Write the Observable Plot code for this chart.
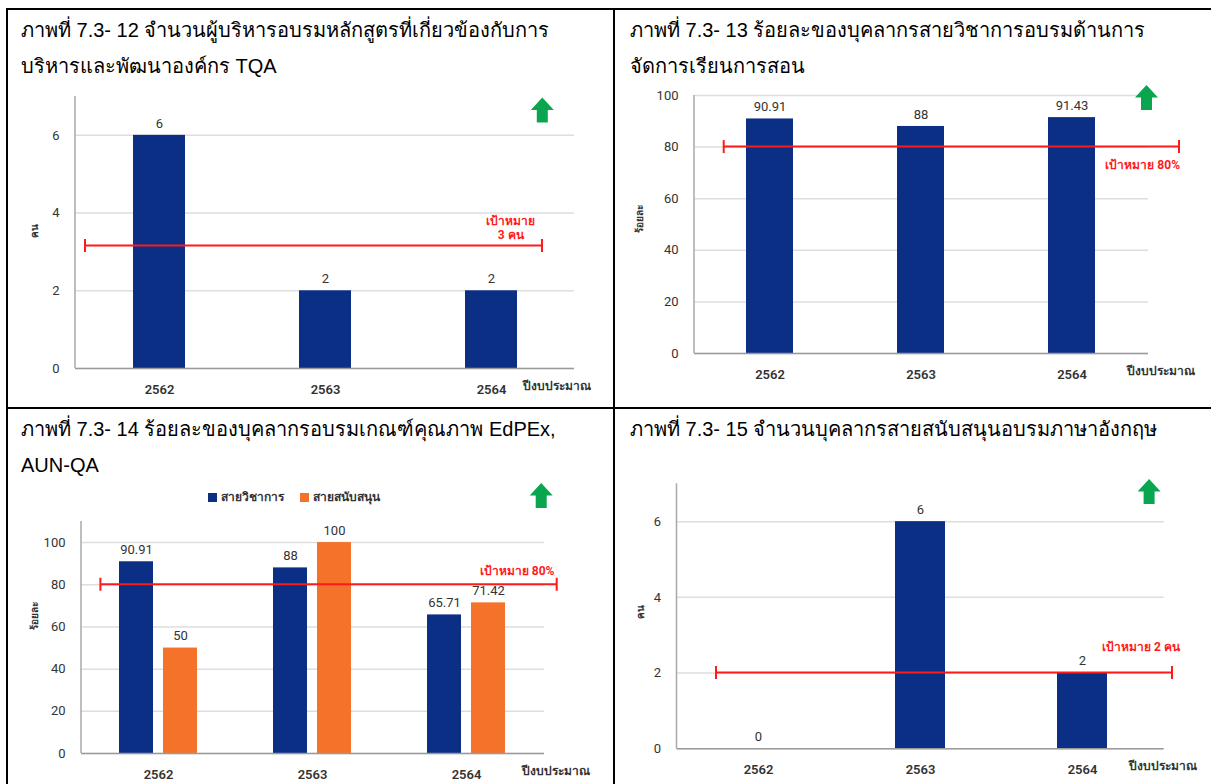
<!DOCTYPE html>
<html>
<head>
<meta charset="utf-8">
<script src="https://cdn.jsdelivr.net/npm/d3@7"></script>
<script src="https://cdn.jsdelivr.net/npm/@observablehq/plot@0.6"></script>
<style>
html, body { margin: 0; padding: 0; background: #fff; }
body { width: 1211px; height: 784px; overflow: hidden; position: relative; font-family: "Liberation Sans", Arial, sans-serif; }
.b { position: absolute; background: #000; }
.t { position: absolute; font-size: 20px; line-height: 20px; white-space: nowrap; color: #000; }
.chart { position: absolute; }
.chart svg { overflow: visible; }
.chart svg [aria-label^="x-axis"] text { font-weight: 600; fill: #333; }
.legend { position: absolute; display: flex; align-items: center; gap: 16px; font-family: Roboto, "Noto Sans", sans-serif; font-size: 12px; font-weight: 600; color: #333; white-space: nowrap; }
.legend span.sw { display: inline-block; width: 9px; height: 9px; margin-right: 4px; vertical-align: middle; }
</style>
</head>
<body>
<script>
// ---------------- data ----------------
const years = ["2562", "2563", "2564"];
const mgmtTQA = [6, 2, 2];                       // ภาพที่ 7.3-12 (คน)
const academicTeaching = [90.91, 88, 91.43];     // ภาพที่ 7.3-13 (ร้อยละ)
const qaAcademic = [90.91, 88, 65.71];           // ภาพที่ 7.3-14 สายวิชาการ
const qaSupport = [50, 100, 71.42];              // ภาพที่ 7.3-14 สายสนับสนุน
const englishSupport = [0, 6, 2];                // ภาพที่ 7.3-15 (คน)
const seriesNames = ["สายวิชาการ", "สายสนับสนุน"];
const titleLines = [
  ["ภาพที่ 7.3- 12 จำนวนผู้บริหารอบรมหลักสูตรที่เกี่ยวข้องกับการ", "บริหารและพัฒนาองค์กร TQA"],
  ["ภาพที่ 7.3- 13 ร้อยละของบุคลากรสายวิชาการอบรมด้านการ", "จัดการเรียนการสอน"],
  ["ภาพที่ 7.3- 14 ร้อยละของบุคลากรอบรมเกณฑ์คุณภาพ EdPEx,", "AUN-QA"],
  ["ภาพที่ 7.3- 15 จำนวนบุคลากรสายสนับสนุนอบรมภาษาอังกฤษ"]
];
const targetLevels = [3.15, 80, 80, 2];
const targetLabels = [["เป้าหมาย", "3 คน"], ["เป้าหมาย 80%"], ["เป้าหมาย 80%"], ["เป้าหมาย 2 คน"]];
const yLabels = ["คน", "ร้อยละ", "ร้อยละ", "คน"];
const xLabel = "ปีงบประมาณ";
const countTicks = [0, 2, 4, 6];
const pctTicks = [0, 20, 40, 60, 80, 100];

// ---------------- style ----------------
const NAVY = "#0b2f85";
const ORANGE = "#f4722a";
const RED = "#ff1a1a";
const GREEN = "#0aa64f";
const FONT = "Roboto, 'Noto Sans', 'DejaVu Sans', sans-serif";

// table borders
function box(l, t, w, h) {
  const d = document.createElement("div");
  d.className = "b";
  Object.assign(d.style, {left: l + "px", top: t + "px", width: w + "px", height: h + "px"});
  document.body.appendChild(d);
}
box(6, 8, 1300, 2);
box(6, 8, 2, 900);
box(613, 8, 2, 900);
box(6, 407, 1300, 2);

// titles
const titlePos = [[21, 19.5], [630, 19.5], [21, 418.5], [630, 418.5]];
titleLines.forEach((lines, i) => {
  lines.forEach((txt, j) => {
    const d = document.createElement("div");
    d.className = "t";
    d.textContent = txt;
    d.style.left = titlePos[i][0] + "px";
    d.style.top = (titlePos[i][1] + j * 36.6) + "px";
    document.body.appendChild(d);
  });
});

// legend for chart 3
{
  const lg = document.createElement("div");
  lg.className = "legend";
  lg.style.left = "208px";
  lg.style.top = "487px";
  [NAVY, ORANGE].forEach((c, i) => {
    const it = document.createElement("div");
    const sw = document.createElement("span");
    sw.className = "sw";
    sw.style.background = c;
    it.appendChild(sw);
    it.appendChild(document.createTextNode(seriesNames[i]));
    lg.appendChild(it);
  });
  document.body.appendChild(lg);
}

// decoration mark: target line with end caps, target label, green arrow, y axis line
function decor(c) {
  return (...args) => {
    const scales = args.find(a => a && typeof a.y === "function");
    const dims = args.find(a => a && typeof a === "object" && "marginLeft" in a && "width" in a);
    const L = dims.marginLeft, R = dims.width - dims.marginRight, T = dims.marginTop;
    const y = scales.y(c.level);
    const g = d3.create("svg:g");
    const x1 = L + c.x1, x2 = R + c.x2;
    g.append("line").attr("x1", x1).attr("x2", x2).attr("y1", y).attr("y2", y)
      .attr("stroke", RED).attr("stroke-width", 2);
    [x1, x2].forEach(x => g.append("line").attr("x1", x).attr("x2", x)
      .attr("y1", y - 6.5).attr("y2", y + 6.5).attr("stroke", RED).attr("stroke-width", 2));
    c.label.forEach((s, k) => g.append("text")
      .attr("x", R + c.lx).attr("y", y + c.ly[k]).attr("dy", "0.35em")
      .attr("text-anchor", c.anchor).attr("fill", RED)
      .attr("font-weight", "bold").attr("font-size", 12).text(s));
    const ax = R + c.ax, ay = T + c.ay;
    g.append("path")
      .attr("d", `M${ax + 11.5},${ay} L${ax + 23},${ay + 12.5} L${ax + 17},${ay + 12.5} L${ax + 17},${ay + 25} L${ax + 6},${ay + 25} L${ax + 6},${ay + 12.5} L${ax},${ay + 12.5} Z`)
      .attr("fill", GREEN);
    g.append("line").attr("x1", L).attr("x2", L).attr("y1", T).attr("y2", dims.height - dims.marginBottom)
      .attr("stroke", "#a8a8a8").attr("stroke-width", 1.5);
    return g.node();
  };
}

function makeChart(cfg) {
  const marks = [
    Plot.ruleY(cfg.grid, {stroke: "#dedede", strokeWidth: 1.5}),
    ...cfg.bars,
    Plot.ruleY([0], {stroke: "#9a9a9a", strokeWidth: 1.5}),
    ...cfg.values,
    Plot.text([cfg.yLabel], {text: d => d, frameAnchor: "left", rotate: -90, dx: cfg.ylx, dy: cfg.yly,
      textAnchor: "middle", fontWeight: "bold", fontSize: 10, fill: "#333"}),
    Plot.text([xLabel], {text: d => d, frameAnchor: "bottom-right", dx: cfg.xlx, dy: 21,
      textAnchor: "middle", fontWeight: "bold", fontSize: 12, fill: "#333"}),
    decor(cfg.decor)
  ];
  const svg = Plot.plot({
    width: cfg.w, height: cfg.h,
    marginLeft: cfg.m[0], marginRight: cfg.m[1], marginTop: cfg.m[2], marginBottom: cfg.m[3],
    style: {fontFamily: FONT, fontSize: "13px", color: "#333", background: "transparent", overflow: "visible"},
    x: {domain: years, paddingInner: cfg.pi, paddingOuter: cfg.pi / 2, align: 0.5, tickSize: 0, tickPadding: 16, label: null},
    y: {domain: cfg.yDomain, ticks: cfg.grid, tickFormat: d => String(d), tickSize: 0, tickPadding: 16, label: null},
    marks
  });
  const wrap = document.createElement("div");
  wrap.className = "chart";
  wrap.style.left = cfg.left + "px";
  wrap.style.top = cfg.top + "px";
  wrap.appendChild(svg);
  document.body.appendChild(wrap);
}

const table = (vals) => years.map((yr, i) => ({year: yr, value: vals[i]}));
const valueText = (data, extra = {}) => Plot.text(data, {x: "year", y: "value", text: d => String(d.value),
  dy: -12, fill: "#333", fontSize: 13, ...extra});

// chart 1
{
  const d = table(mgmtTQA);
  makeChart({
    left: 8, top: 80, w: 600, h: 320, m: [67, 34, 16, 32],
    pi: 0.6875, yDomain: [0, 7], grid: countTicks, yLabel: yLabels[0],
    ylx: -40.5, yly: -2, xlx: -18,
    bars: [Plot.barY(d, {x: "year", y: "value", fill: NAVY})],
    values: [valueText(d)],
    decor: {level: targetLevels[0], x1: 10, x2: -32, label: targetLabels[0], lx: -63.3, ly: [-25, -11], anchor: "middle", ax: -43.2, ay: 1.5}
  });
}
// chart 2
{
  const d = table(academicTeaching);
  makeChart({
    left: 615, top: 80, w: 596, h: 320, m: [79, 63, 15, 47],
    pi: 0.686, yDomain: [0, 100], grid: pctTicks, yLabel: yLabels[1],
    ylx: -55, yly: -6, xlx: 12.5,
    bars: [Plot.barY(d, {x: "year", y: "value", fill: NAVY})],
    values: [valueText(d)],
    decor: {level: targetLevels[1], x1: 29.7, x2: 31, label: targetLabels[1], lx: 32, ly: [18], anchor: "end", ax: -13, ay: -10}
  });
}
// chart 3
{
  const a = table(qaAcademic), s = table(qaSupport);
  makeChart({
    left: 8, top: 475, w: 600, h: 309, m: [73, 64, 46, 31],
    pi: 0.4906, yDomain: [0, 110], grid: pctTicks, yLabel: yLabels[2],
    ylx: -46.6, yly: -21.6, xlx: 11.5,
    bars: [
      Plot.barY(a, {x: "year", y: "value", fill: NAVY, insetRight: 44}),
      Plot.barY(s, {x: "year", y: "value", fill: ORANGE, insetLeft: 44})
    ],
    values: [valueText(a, {dx: -22}), valueText(s, {dx: 22})],
    decor: {level: targetLevels[2], x1: 19.4, x2: 12.7, label: targetLabels[2], lx: 10.4, ly: [-13], anchor: "end", ax: -14.3, ay: -38}
  });
}
// chart 4
{
  const d = table(englishSupport);
  makeChart({
    left: 615, top: 470, w: 596, h: 314, m: [61.5, 47.4, 13.3, 35.7],
    pi: 0.69, yDomain: [0, 7], grid: countTicks, yLabel: yLabels[3],
    ylx: -36, yly: -4, xlx: -1.2,
    bars: [Plot.barY(d, {x: "year", y: "value", fill: NAVY})],
    values: [valueText(d)],
    decor: {level: targetLevels[3], x1: 39.5, x2: 8.4, label: targetLabels[3], lx: 16.4, ly: [-26], anchor: "end", ax: -26, ay: -4.3}
  });
}
</script>
</body>
</html>
